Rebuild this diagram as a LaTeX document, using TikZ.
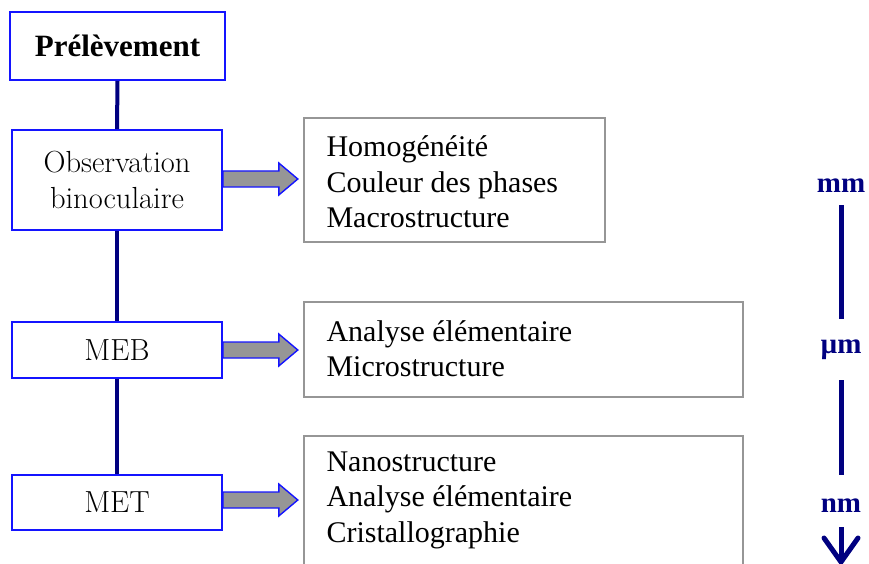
\documentclass[tikz,border=0pt]{standalone}
\usepackage{fontspec}
\newfontfamily\gar{Liberation Serif}
\usetikzlibrary{arrows.meta}
\definecolor{navy}{RGB}{0,0,128}
\definecolor{boxblue}{RGB}{20,20,255}
\definecolor{boxgray}{RGB}{150,150,150}
\definecolor{arrgray}{RGB}{150,150,150}
\tikzset{
  leftbox/.style={draw=boxblue,line width=1.6pt,fill=white,minimum width=210pt,inner sep=0pt,align=center,font=\fontsize{30.5}{36}\selectfont},
  rightbox/.style={draw=boxgray,line width=1.4pt,inner sep=0pt},
  righttext/.style={anchor=west,align=left,font=\gar\fontsize{30}{35.5}\selectfont},
  link/.style={draw=navy,line width=4pt},
  blockarrow/.style={draw=boxblue,line width=1.4pt,fill=arrgray,line join=miter},
  scalelbl/.style={text=navy,font=\gar\bfseries\fontsize{29}{30}\selectfont},
  scaleline/.style={draw=navy,line width=5pt}
}
\begin{document}
\begin{tikzpicture}[x=1pt,y=-1pt]
\useasboundingbox (0,0) rectangle (869,564);
% left boxes
\node[leftbox,minimum width=215pt,minimum height=68pt,font=\gar\bfseries\fontsize{31}{35}\selectfont] (prel) at (117.5,46) {Prélèvement};
\node[leftbox,minimum height=100pt] (obs) at (117,180) {Observation\\binoculaire};
\node[leftbox,minimum height=56pt] (meb) at (117,350) {MEB};
\node[leftbox,minimum height=55pt] (met) at (117,502.5) {MET};
% links
\draw[link] (prel.south) -- (obs.north);
\draw[link] (obs.south) -- (meb.north);
\draw[link] (meb.south) -- (met.north);
% right boxes
\draw[rightbox] (304,118) rectangle (605,242);
\node[righttext] (t1) at (323,182) {Homogénéité\\Couleur des phases\\Macrostructure};
\draw[rightbox] (304,302) rectangle (743,397);
\node[righttext] (t2) at (323,348.5) {Analyse élémentaire\\Microstructure};
\draw[rightbox] (304,566) -- (304,436) -- (743,436) -- (743,566);
\node[righttext] (t3) at (323,500) {Nanostructure\\Analyse élémentaire\\Cristallographie};
% block arrows
\coordinate (a1) at (obs.east |- 0,179);
\coordinate (a2) at (meb.east);
\coordinate (a3) at (met.east |- 0,500);
\foreach \a in {a1,a2,a3}{
  \draw[blockarrow] (\a) ++(0,-8) -- ++(56,0) -- ++(0,-8) -- ++(19,16) -- ++(-19,16) -- ++(0,-8) -- ++(-56,0) -- cycle;
}
% scale
\node[scalelbl] (mm) at (841,186) {mm};
\node[scalelbl] (um) at (841,350) {µm};
\node[scalelbl] (nm) at (841,506) {nm};
\draw[scaleline] (841,205) -- (841,319);
\draw[scaleline] (841,380) -- (841,475);
\coordinate (arrend) at (841,562);
\draw[scaleline] (841,527) -- (arrend);
\draw[draw=navy,line width=5pt,line cap=round,line join=miter] (824,538) -- (arrend) -- (858,538);
\end{tikzpicture}
\end{document}
